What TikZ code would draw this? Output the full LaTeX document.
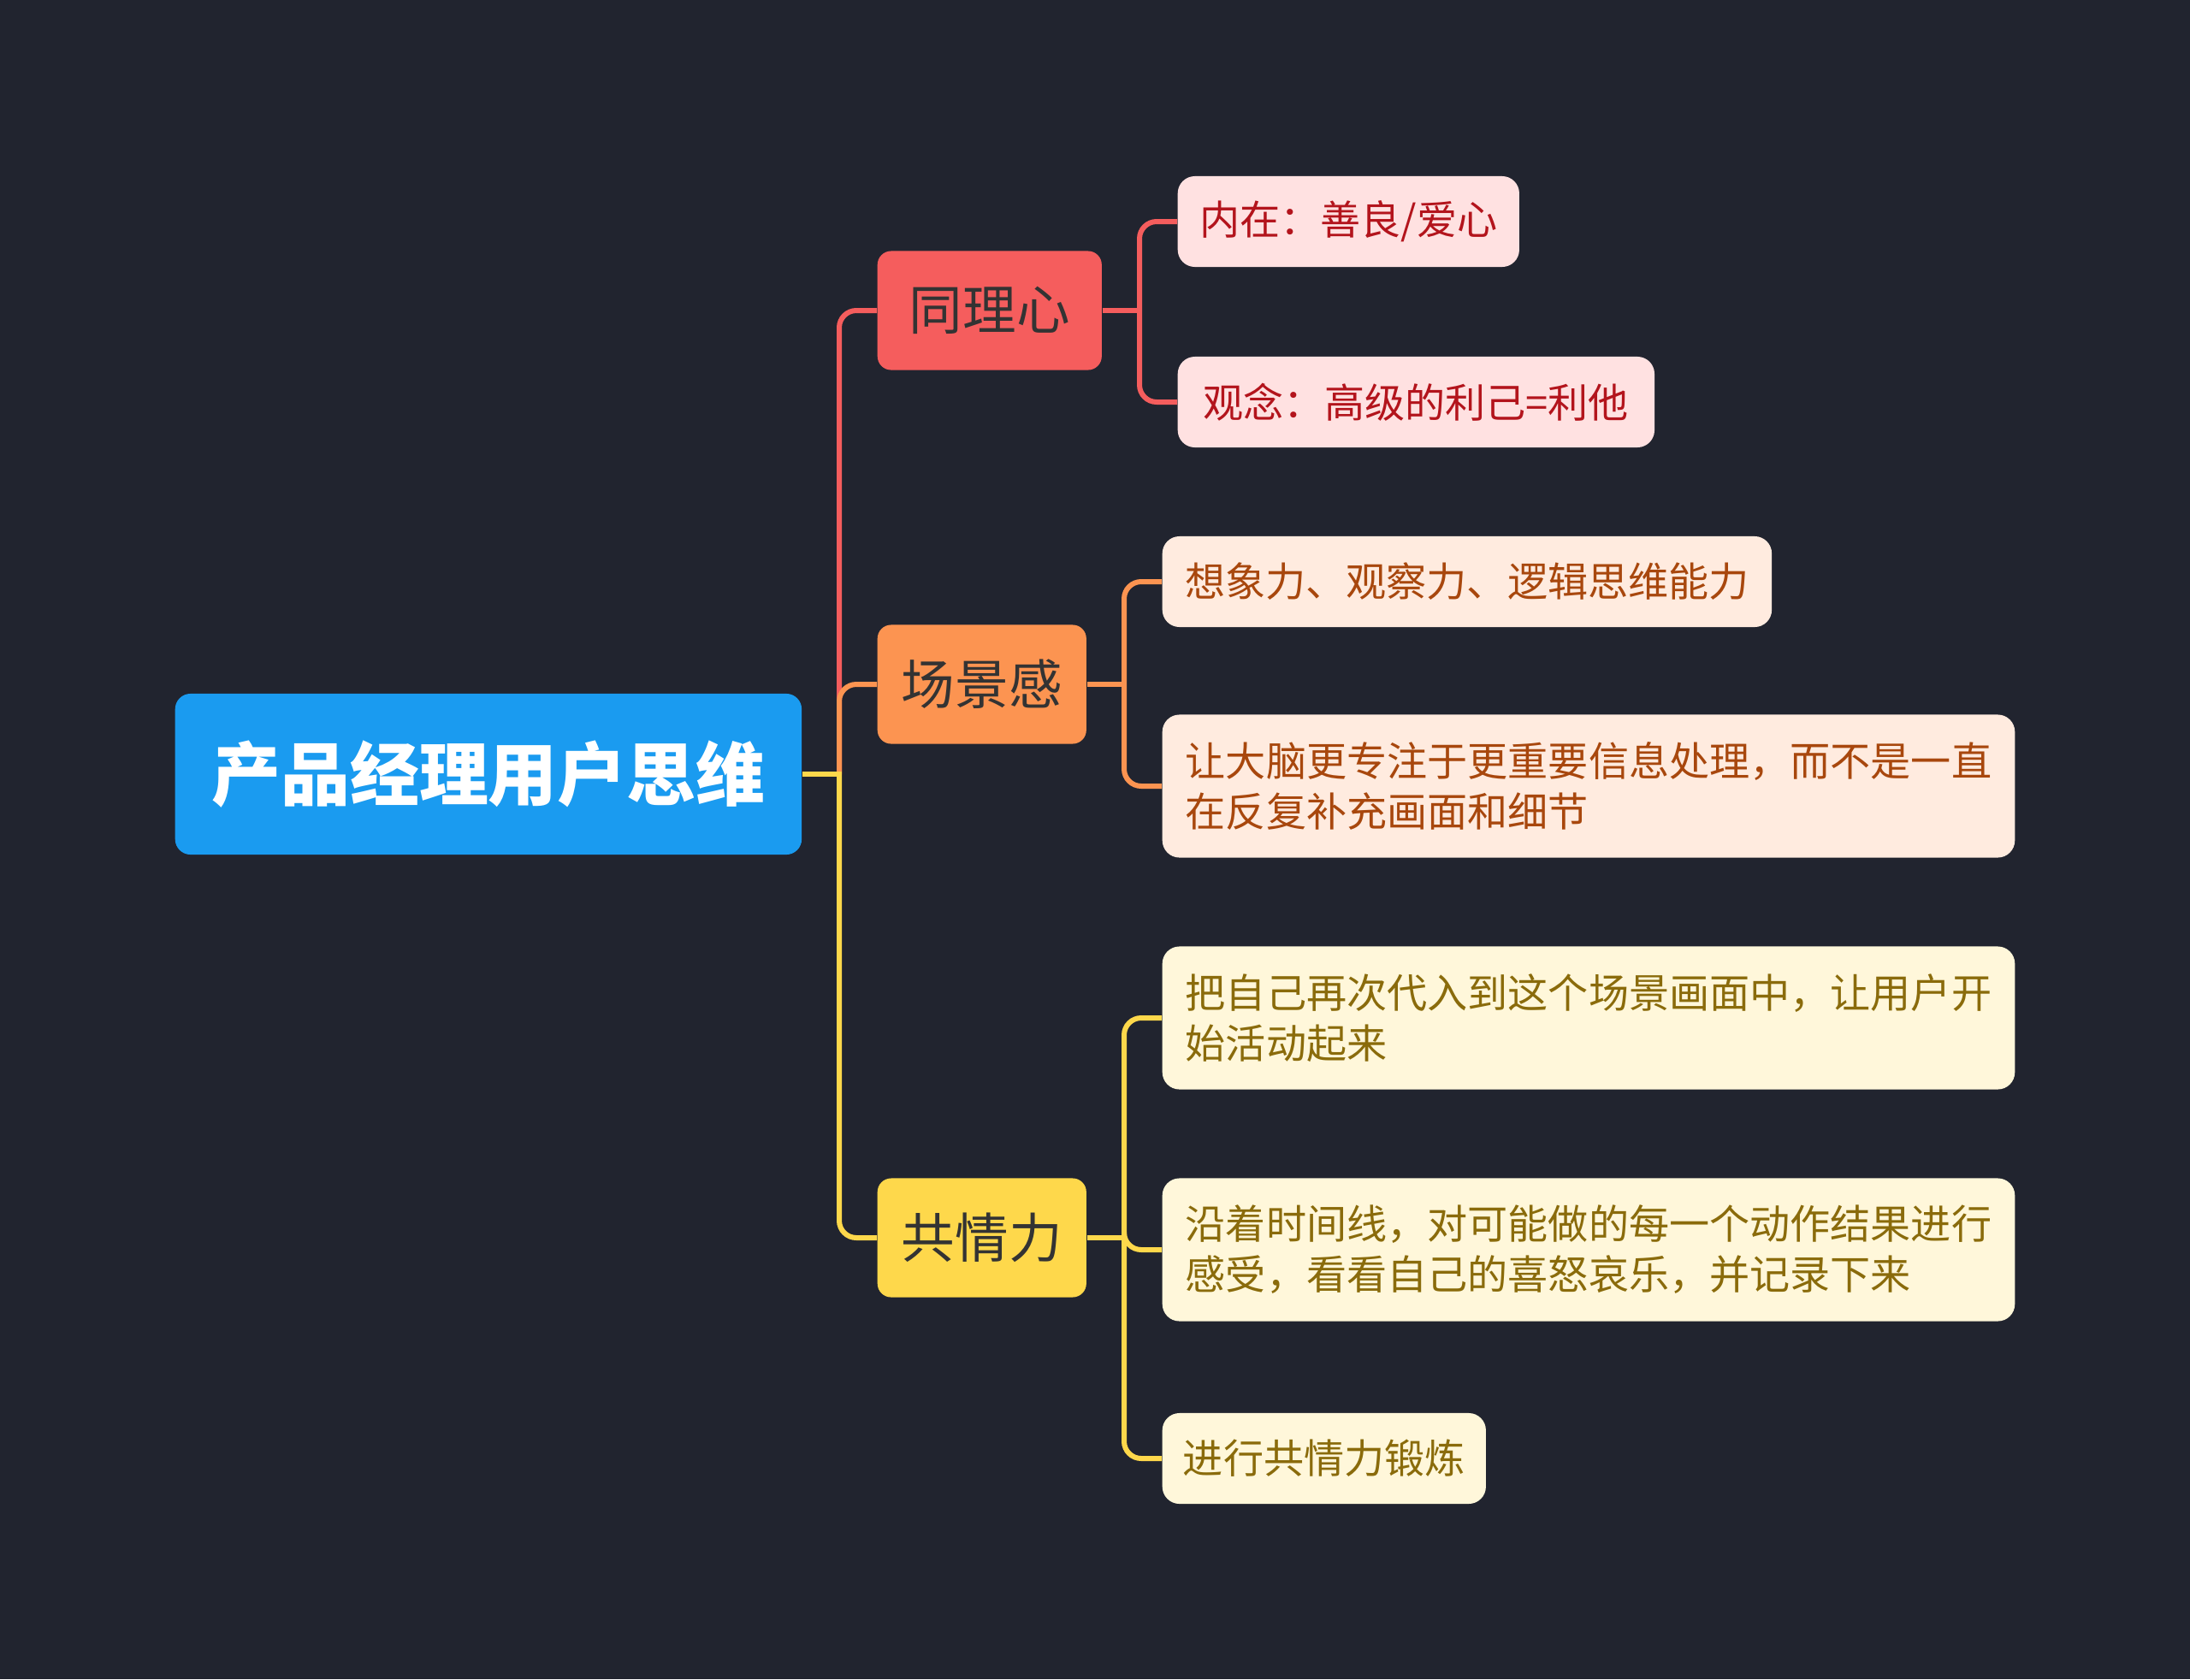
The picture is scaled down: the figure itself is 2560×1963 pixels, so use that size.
\documentclass[tikz,border=0pt]{standalone}
\usepackage{fontspec}
\setmainfont{Noto Sans CJK SC}
\definecolor{bg}{HTML}{21242F}
\definecolor{rootc}{HTML}{1A9BF0}
\definecolor{redc}{HTML}{F55D5D}
\definecolor{orangec}{HTML}{FC9451}
\definecolor{yellowc}{HTML}{FED84B}
\definecolor{redleaf}{HTML}{FFE1E1}
\definecolor{orangeleaf}{HTML}{FFEBDF}
\definecolor{yellowleaf}{HTML}{FFF7DA}
\definecolor{redtext}{HTML}{B3141C}
\definecolor{orangetext}{HTML}{A8470D}
\definecolor{yellowtext}{HTML}{8A6B0B}
\begin{document}
\begin{tikzpicture}[x=0.01cm, y=-0.01cm,
  link/.style={line width=0.06cm, rounded corners=0.2cm},
  topic/.style={anchor=west, fill=rootc, text=white, rounded corners=0.18cm,
    minimum width=7.32cm, minimum height=1.88cm, font=\fontsize{23pt}{27pt}\selectfont\bfseries},
  branch/.style={anchor=west, rounded corners=0.16cm, text=black!80,
    minimum height=1.39cm, font=\fontsize{17.8pt}{21pt}\selectfont},
  leaf/.style={anchor=west, rounded corners=0.2cm, align=left, inner sep=0pt,
    minimum height=1.06cm, font=\fontsize{13.4pt}{16.8pt}\selectfont},
  redleafbox/.style={leaf, fill=redleaf, text=redtext},
  orangeleafbox/.style={leaf, fill=orangeleaf, text=orangetext},
  yellowleafbox/.style={leaf, fill=yellowleaf, text=yellowtext}]
  \fill[bg] (0,0) rectangle (2560,1963);
  \coordinate (hub0) at (981,905);
  \coordinate (hub1) at (1332,363);
  \coordinate (hub2) at (1314,800);
  \coordinate (hub3) at (1314,1447);

  \node[topic] (root) at (204,905) {产品经理用户思维};
  \node[branch, fill=redc, minimum width=2.62cm] (tongli) at (1025,363) {同理心};
  \node[branch, fill=orangec, minimum width=2.44cm] (changjing) at (1025,800) {场景感};
  \node[branch, fill=yellowc, minimum width=2.44cm] (gongqing) at (1025,1447) {共情力};

  \node[redleafbox, minimum width=3.99cm] (neizai) at (1376,259) {内在：善良/爱心};
  \node[redleafbox, minimum width=5.57cm] (guannian) at (1376,470) {观念：高级的利己=利他};
  \node[orangeleafbox, minimum width=7.12cm] (xiangxiang) at (1358,680) {想象力、观察力、逻辑思维能力};
  \node[orangeleafbox, minimum width=9.96cm, minimum height=1.67cm] (danao) at (1358,919)
    {让大脑更专注于更重要信息处理，而不是一直\\在反复补充画面和细节};
  \node[yellowleafbox, minimum width=9.96cm, minimum height=1.67cm] (daiyu) at (1358,1190)
    {把自己再次代入到这个场景画面中，让用户开\\始活动起来};
  \node[yellowleafbox, minimum width=9.96cm, minimum height=1.67cm] (yanzhe) at (1358,1461)
    {沿着时间线，对可能做的每一个动作结果进行\\感受，看看自己的喜怒哀乐，并记录下来};
  \node[yellowleafbox, minimum width=3.78cm] (duanlian) at (1358,1705) {进行共情力锻炼};

  \draw[link, redc] (hub0) |- (tongli.west);
  \draw[link, orangec] (hub0) |- (changjing.west);
  \draw[link, yellowc] (hub0) |- (gongqing.west);
  \draw[link, yellowc] (root.east) -- ([xshift=0.03cm]hub0);
  \draw[link, redc] (tongli.east) -- ([xshift=0.03cm]hub1);
  \foreach \n in {neizai, guannian} \draw[link, redc] (hub1) |- (\n.west);
  \draw[link, orangec] (changjing.east) -- ([xshift=0.03cm]hub2);
  \foreach \n in {xiangxiang, danao} \draw[link, orangec] (hub2) |- (\n.west);
  \draw[link, yellowc] (gongqing.east) -- ([xshift=0.03cm]hub3);
  \foreach \n in {daiyu, yanzhe, duanlian} \draw[link, yellowc] (hub3) |- (\n.west);
\end{tikzpicture}
\end{document}
